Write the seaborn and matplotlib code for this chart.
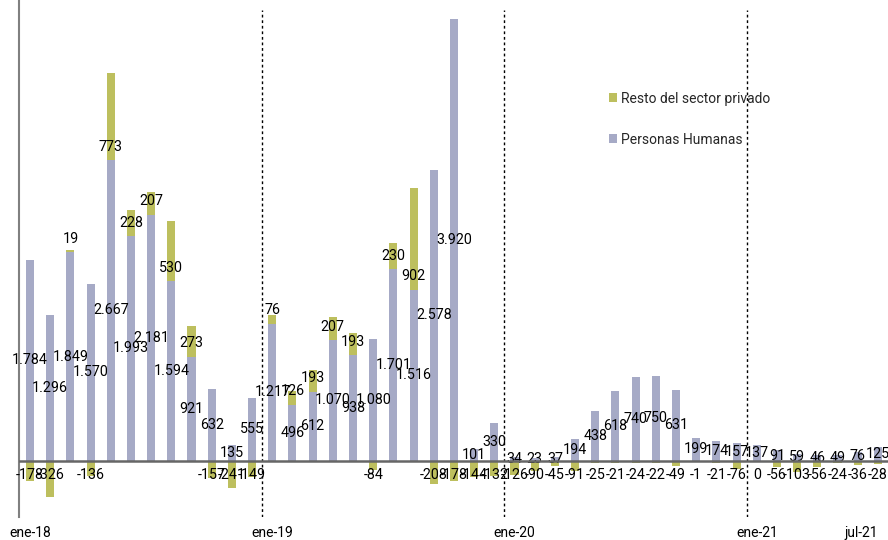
import numpy as np
import pandas as pd
import matplotlib
matplotlib.use('Agg')
import matplotlib.pyplot as plt
import seaborn as sns

OUTPUT = 'out.png'

# Periodos mensuales ene-18 .. jul-21
MESES = ['ene', 'feb', 'mar', 'abr', 'may', 'jun', 'jul', 'ago', 'sep', 'oct', 'nov', 'dic']
periodos = [f'{m}-{a}' for a in ['18', '19', '20', '21'] for m in MESES][:43]

personas_humanas = [1784, 1296, 1849, 1570, 2667, 1993, 2181, 1594, 921, 632, 135, 555,
                    1217, 496, 612, 1070, 938, 1080, 1701, 1516, 2578, 3920, 101, 330,
                    34, 23, 37, 194, 438, 618, 740, 750, 631, 199, 174, 157,
                    137, 91, 59, 46, 49, 76, 125]
resto_privado = [-178, -326, 19, -136, 773, 228, 207, 530, 273, -157, -241, -149,
                 76, 126, 193, 207, 193, -84, 230, 902, -208, -178, -144, -132,
                 -126, -90, -45, -91, -25, -21, -24, -22, -49, -1, -21, -76,
                 0, -56, -103, -56, -24, -36, -28]

ticks_labels = ['ene-18', 'ene-19', 'ene-20', 'ene-21', 'jul-21']

COLOR_PH = '#a6aac6'
COLOR_RESTO = '#bdbf5e'


def fmt(v):
    return f'{v:,}'.replace(',', '.')


def main():
    sns.set_style('white')
    plt.rcParams['font.family'] = ['Roboto', 'DejaVu Sans']

    df = pd.DataFrame({'periodo': periodos, 'ph': personas_humanas, 'resto': resto_privado})
    # resto positivo se apila sobre personas humanas, negativo va desde cero
    base_resto = np.where(df['resto'] > 0, df['ph'], 0)

    fig = plt.figure(figsize=(8.88, 5.4), dpi=100)
    ax = fig.add_axes([19 / 888, 23 / 540, 869 / 888, 517 / 540])

    sns.barplot(data=df, x='periodo', y='ph', order=periodos, color=COLOR_PH, width=0.4,
                errorbar=None, saturation=1, linewidth=0, ax=ax, label='Personas Humanas')
    sns.barplot(data=df, x='periodo', y='resto', order=periodos, color=COLOR_RESTO, width=0.4,
                errorbar=None, saturation=1, linewidth=0, ax=ax, bottom=base_resto,
                label='Resto del sector privado')

    # etiquetas de datos
    for i, (ph, r) in enumerate(zip(df['ph'], df['resto'])):
        ax.annotate(fmt(ph), (i, ph / 2), ha='center', va='center', fontsize=10.3, color='black')
        if r > 0:
            ax.annotate(fmt(r), (i, ph), xytext=(0, 9.7), textcoords='offset points',
                        ha='center', va='center', fontsize=10.3, color='black')
        else:
            ax.annotate(fmt(r), (i, 0), xytext=(0, -10.3), textcoords='offset points',
                        ha='center', va='center', fontsize=10.3, color='black')

    ax.set_xlim(-0.545, 42.5)
    ax.set_ylim(-500, 4089)
    ax.axhline(0, color='#666666', lw=1.8, zorder=5)
    ax.vlines([11.5, 23.5, 35.5], -500, 4000, colors='black', linestyles=(0, (2, 2)), lw=1, zorder=4)

    for side in ['top', 'right', 'bottom']:
        ax.spines[side].set_visible(False)
    ax.spines['left'].set_color('#808080')
    ax.spines['left'].set_linewidth(1.5)

    ax.set_yticks([])
    ax.set_xticks([periodos.index(t) for t in ticks_labels])
    ax.set_xticklabels(ticks_labels)
    ax.tick_params(axis='x', length=0, pad=6.5, labelsize=10, colors='black')
    ax.get_xticklabels()[-1].set_ha('right')
    ax.set_xlabel('')
    ax.set_ylabel('')

    handles, labels = ax.get_legend_handles_labels()
    ax.legend(handles[::-1], labels[::-1], loc='upper left',
              bbox_to_anchor=(596 / 888, 1 - 79 / 540), bbox_transform=fig.transFigure,
              frameon=False, handlelength=0.6, handleheight=0.6, handletextpad=0.3,
              labelspacing=1.95, fontsize=10)

    fig.savefig(OUTPUT, dpi=100)


if __name__ == '__main__':
    main()
